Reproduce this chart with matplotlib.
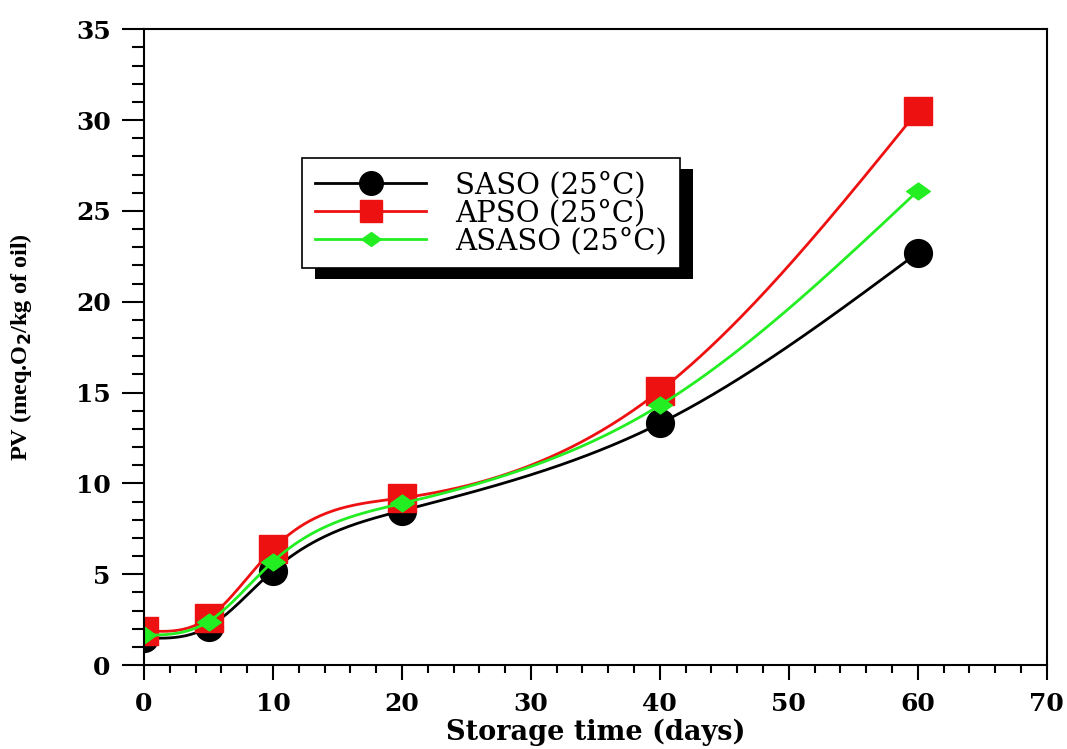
import numpy as np
import matplotlib.pyplot as plt
from matplotlib.path import Path
from matplotlib.patches import Rectangle

plt.rcParams['font.family'] = 'Liberation Serif'

days = [0, 5, 10, 20, 40, 60]
saso = [1.5, 2.1, 5.2, 8.5, 13.3, 22.7]
apso = [1.9, 2.6, 6.4, 9.2, 15.1, 30.5]
asaso = [1.65, 2.4, 5.7, 8.9, 14.3, 26.1]


def natural_spline(x, y, n=300):
    # natural cubic spline through the points, solved with numpy
    x = np.asarray(x, float)
    y = np.asarray(y, float)
    h = np.diff(x)
    m = len(x)
    A = np.zeros((m, m))
    b = np.zeros(m)
    A[0, 0] = A[-1, -1] = 1
    for i in range(1, m - 1):
        A[i, i - 1] = h[i - 1]
        A[i, i] = 2 * (h[i - 1] + h[i])
        A[i, i + 1] = h[i]
        b[i] = 6 * ((y[i + 1] - y[i]) / h[i] - (y[i] - y[i - 1]) / h[i - 1])
    M = np.linalg.solve(A, b)
    xs = np.linspace(x[0], x[-1], n)
    k = np.clip(np.searchsorted(x, xs) - 1, 0, m - 2)
    t0 = x[k + 1] - xs
    t1 = xs - x[k]
    hk = h[k]
    ys = (M[k] * t0**3 + M[k + 1] * t1**3) / (6 * hk) \
        + (y[k] / hk - M[k] * hk / 6) * t0 \
        + (y[k + 1] / hk - M[k + 1] * hk / 6) * t1
    return xs, ys


# flattened diamond
diamond = Path([(-1.4, 0), (0, 1), (1.4, 0), (0, -1), (-1.4, 0)],
               [Path.MOVETO, Path.LINETO, Path.LINETO, Path.LINETO, Path.CLOSEPOLY])

fig = plt.figure(figsize=(10.67, 7.49), dpi=100)
ax = fig.add_axes([0.135, 0.112, 0.846, 0.849])

series = [
    ('SASO (25°C)', saso, 'black', 'o', 20, 17),
    ('APSO (25°C)', apso, '#ee1111', 's', 20, 16),
    ('ASASO (25°C)', asaso, '#22ee22', diamond, 17, 14),
]
for label, vals, col, mk, ms, lms in series:
    xs, ys = natural_spline(days, vals)
    ax.plot(xs, ys, color=col, lw=2)
    ax.plot(days, vals, ls='none', marker=mk, ms=ms, color=col, mec=col)
    ax.plot([], [], color=col, lw=2, marker=mk, ms=lms, mec=col, label=label)

ax.set_xlim(0, 70)
ax.set_ylim(0, 35)
ax.set_xticks(range(0, 71, 10))
ax.set_xticks(range(0, 71, 2), minor=True)
ax.set_yticks(range(0, 36, 5))
ax.set_yticks(range(0, 36, 1), minor=True)

for s in ax.spines.values():
    s.set_linewidth(1.5)
ax.tick_params(axis='x', which='major', length=11, width=1.5, direction='out', pad=8)
ax.tick_params(axis='x', which='minor', length=6, width=1.5, direction='out')
ax.tick_params(axis='y', which='major', length=16, width=1.5, direction='out', pad=8)
ax.tick_params(axis='y', which='minor', length=9, width=1.5, direction='out')
for lab in ax.get_xticklabels() + ax.get_yticklabels():
    lab.set_fontsize(18)
    lab.set_fontweight('bold')
    lab.set_family('DejaVu Serif')

ax.set_xlabel('Storage time (days)', fontsize=19.5, fontweight='bold',
              family='DejaVu Serif', labelpad=2)
ax.set_ylabel('PV (meq.O$_\\mathbf{2}$/kg of oil)', fontsize=17.5, fontweight='bold', labelpad=30)

leg = ax.legend(loc='upper left', bbox_to_anchor=(302 / 1067, 1 - 158 / 749),
                bbox_transform=fig.transFigure, borderaxespad=0,
                fancybox=False, frameon=True, edgecolor='black', framealpha=1,
                prop={'size': 21, 'family': 'DejaVu Serif'},
                handlelength=3.8, handletextpad=1.0,
                labelspacing=0.0, borderpad=0.45)
leg.get_frame().set_linewidth(1.2)
leg.set_zorder(10)

# drop shadow behind the legend box
fig.canvas.draw()
bb = leg.get_window_extent()
shadow = Rectangle((bb.x0 + 13, bb.y0 - 11), bb.width, bb.height,
                   transform=None, facecolor='black', edgecolor='none',
                   zorder=9, clip_on=False)
ax.add_artist(shadow)

fig.savefig('out.png', dpi=100)
